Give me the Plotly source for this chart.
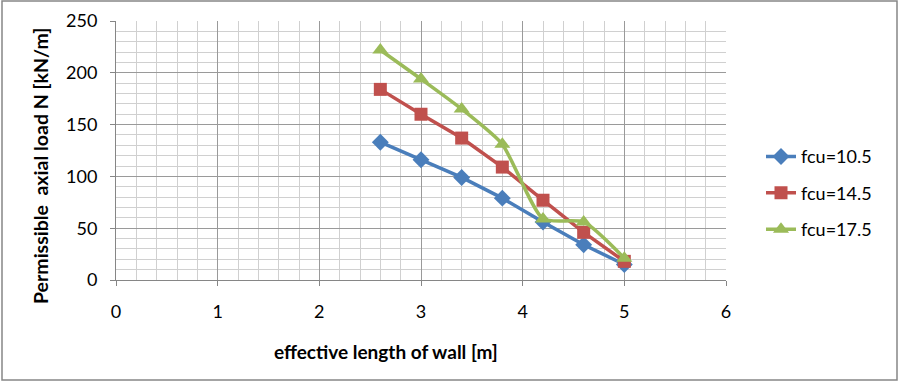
import plotly.graph_objects as go

x_vals = [2.6, 3.0, 3.4, 3.8, 4.2, 4.6, 5.0]
fcu_105 = [133, 116, 99, 79, 56, 34, 15]
fcu_145 = [184, 160, 137, 109, 77, 46, 18]
fcu_175 = [222, 194, 165, 131, 59, 56, 21]
series_names = ["fcu=10.5", "fcu=14.5", "fcu=17.5"]
x_title = "effective length of wall [m]"
y_title = "Permissible  axial load N [kN/m]"

FONT = "Lato, 'Open Sans', sans-serif"
PL, PR, PT, PB = 116, 726, 21, 280
PW, PH = PR - PL, PB - PT

def px(xp):
    return (xp - PL) / PW

def py(yp):
    return (PB - yp) / PH

fig = go.Figure()
fig.add_trace(go.Scatter(x=x_vals, y=fcu_105, name=series_names[0], mode="lines+markers",
                         line=dict(color="#4A7EBB", width=3.5),
                         marker=dict(symbol="diamond", size=13, color="#4A7EBB"),
                         legendgroup="a"))
fig.add_trace(go.Scatter(x=x_vals, y=fcu_145, name=series_names[1], mode="lines+markers",
                         line=dict(color="#C0504D", width=3.5),
                         marker=dict(symbol="square", size=13, color="#C0504D"),
                         legendgroup="b"))
fig.add_trace(go.Scatter(x=x_vals, y=fcu_175, name=series_names[2], mode="lines+markers",
                         line=dict(color="#9BBB59", width=3.5, shape="spline", smoothing=0.6),
                         marker=dict(symbol="triangle-up", size=14, color="#9BBB59"),
                         legendgroup="c"))

fig.update_layout(
    width=901, height=382,
    margin=dict(l=PL, r=901 - PR, t=PT, b=382 - PB, autoexpand=False),
    paper_bgcolor="white", plot_bgcolor="white",
    font=dict(family=FONT, size=18, color="#000000"),
    legend=dict(x=px(761), y=0.335, xanchor="left", yanchor="middle",
                font=dict(size=18), tracegroupgap=10, bgcolor="rgba(0,0,0,0)"),
    xaxis=dict(range=[0, 6], dtick=1, tick0=0, showline=True, linecolor="#868686", linewidth=1,
               ticks="outside", ticklen=5, tickcolor="#868686", ticklabelstandoff=10,
               showgrid=True, gridcolor="#9a9a9a", gridwidth=1, zeroline=False,
               minor=dict(dtick=0.2, showgrid=True, gridcolor="#d0d0d0", gridwidth=1)),
    yaxis=dict(range=[0, 250], dtick=50, tick0=0, showline=True, linecolor="#868686", linewidth=1,
               ticks="outside", ticklen=5, tickcolor="#868686", ticklabelstandoff=9,
               showgrid=True, gridcolor="#9a9a9a", gridwidth=1, zeroline=False,
               minor=dict(dtick=10, showgrid=True, gridcolor="#d0d0d0", gridwidth=1)),
)

fig.add_annotation(text="<b>" + x_title + "</b>", xref="paper", yref="paper",
                   x=px(386), y=py(352), xanchor="center", yanchor="middle",
                   showarrow=False, font=dict(size=19))
fig.add_annotation(text="<b>" + y_title + "</b>", xref="paper", yref="paper",
                   x=px(40), y=py(166), xanchor="center", yanchor="middle", textangle=-90,
                   showarrow=False, font=dict(size=19.5))

# outer chart border
fig.add_shape(type="rect", xref="paper", yref="paper",
              x0=px(2), x1=px(897), y0=py(380), y1=py(1),
              line=dict(color="#868686", width=1.5), fillcolor="rgba(0,0,0,0)", layer="below")

fig.write_html("out.html")
